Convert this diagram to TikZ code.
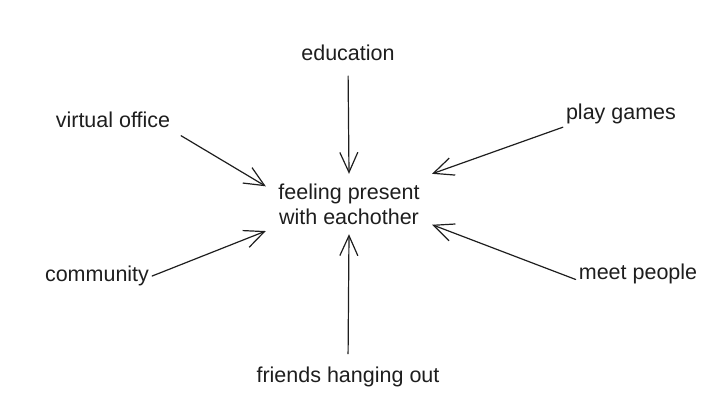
\documentclass[tikz,border=0pt]{standalone}
\usepackage{fontspec}
\setmainfont{Liberation Sans}
\usetikzlibrary{arrows.meta}
\definecolor{ink}{HTML}{1E1E1E}

\begin{document}
\begin{tikzpicture}[x=1pt,y=-1pt,
  lbl/.style={text=ink,font=\fontsize{21.5}{25}\selectfont,inner sep=3pt},
  arr/.style={draw=ink,line width=1.2pt,line cap=round,line join=round,
    -{Straight Barb[length=20pt,width=18pt]}}]
\useasboundingbox (0,0) rectangle (706,416);
\node[lbl,align=center,minimum width=166pt,minimum height=60pt] (feel) at (349,204) {feeling present\\with eachother};
\node[lbl] (edu) at (348,53) {education};
\node[lbl] (virt) at (113,120) {virtual office};
\node[lbl] (play) at (621,114) {play games};
\node[lbl] (comm) at (97,276) {community};
\node[lbl] (meet) at (638,274) {meet people};
\node[lbl] (fri) at (348,377) {friends hanging out};
% arrows into the middle
\draw[arr,shorten <=12pt] (edu.south) -- (feel.north);
\draw[arr,shorten <=9pt] (virt.south east) -- (feel.168);
\draw[arr] (play.south west) -- (feel.20);
\draw[arr] (comm.east) -- (feel.198);
\draw[arr] (meet.185) -- (feel.-14);
\draw[arr,shorten <=10pt] (fri.north) -- (feel.south);
\end{tikzpicture}
\end{document}
